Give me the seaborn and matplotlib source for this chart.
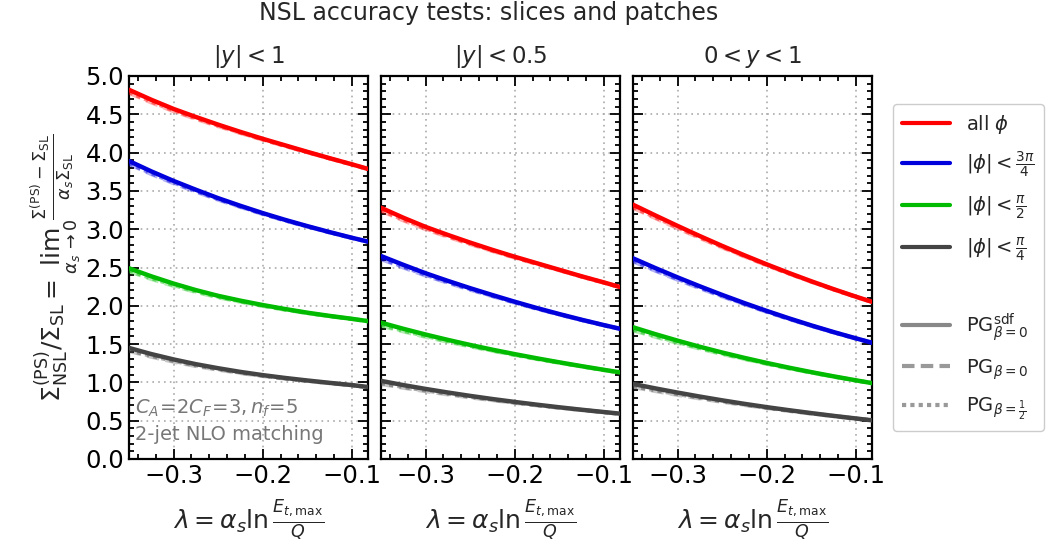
import numpy as np
import pandas as pd
import matplotlib
matplotlib.use("Agg")
import matplotlib.pyplot as plt
from matplotlib.lines import Line2D
from matplotlib.ticker import MultipleLocator
import seaborn as sns

# ---------------- data ----------------
lam = [-0.35, -0.325, -0.30, -0.275, -0.25, -0.225, -0.20, -0.175, -0.15, -0.125, -0.10, -0.082]

panel_titles = [r"$|y| < 1$", r"$|y| < 0.5$", r"$0 < y < 1$"]
slice_labels = [r"all $\phi$", r"$|\phi| < \frac{3\pi}{4}$",
                r"$|\phi| < \frac{\pi}{2}$", r"$|\phi| < \frac{\pi}{4}$"]

# panel 1: |y|<1
p1_all = [4.82, 4.69, 4.57, 4.465, 4.365, 4.27, 4.18, 4.095, 4.01, 3.927, 3.847, 3.787]
p1_3pi4 = [3.89, 3.755, 3.63, 3.515, 3.405, 3.305, 3.21, 3.122, 3.04, 2.962, 2.888, 2.838]
p1_pi2 = [2.49, 2.385, 2.29, 2.205, 2.13, 2.067, 2.01, 1.958, 1.91, 1.868, 1.83, 1.80]
p1_pi4 = [1.45, 1.37, 1.30, 1.238, 1.185, 1.137, 1.095, 1.058, 1.025, 0.994, 0.965, 0.940]
# panel 2: |y|<0.5
p2_all = [3.28, 3.15, 3.03, 2.925, 2.825, 2.73, 2.64, 2.555, 2.47, 2.385, 2.305, 2.245]
p2_3pi4 = [2.65, 2.535, 2.425, 2.325, 2.23, 2.14, 2.053, 1.97, 1.892, 1.818, 1.748, 1.70]
p2_pi2 = [1.78, 1.70, 1.625, 1.555, 1.489, 1.427, 1.369, 1.314, 1.262, 1.212, 1.164, 1.131]
p2_pi4 = [1.02, 0.965, 0.915, 0.868, 0.824, 0.783, 0.745, 0.709, 0.675, 0.643, 0.613, 0.592]
# panel 3: 0<y<1
p3_all = [3.32, 3.18, 3.043, 2.91, 2.782, 2.659, 2.541, 2.428, 2.32, 2.217, 2.119, 2.052]
p3_3pi4 = [2.62, 2.493, 2.371, 2.254, 2.142, 2.035, 1.933, 1.836, 1.744, 1.657, 1.575, 1.518]
p3_pi2 = [1.72, 1.63, 1.545, 1.465, 1.39, 1.32, 1.254, 1.192, 1.134, 1.079, 1.027, 0.991]
p3_pi4 = [0.98, 0.922, 0.867, 0.815, 0.766, 0.72, 0.677, 0.637, 0.599, 0.563, 0.529, 0.505]

# small deviations of the other showers from PG^sdf_{beta=0}
dev_pg_beta0 = [-0.04, -0.035, -0.03, -0.025, -0.02, -0.015, -0.012, -0.009, -0.006, -0.004, -0.003, -0.002]
dev_pg_beta_half = [-0.03, -0.025, -0.02, -0.016, -0.012, -0.01, -0.008, -0.006, -0.004, -0.003, -0.002, -0.001]

panels = [
    [p1_all, p1_3pi4, p1_pi2, p1_pi4],
    [p2_all, p2_3pi4, p2_pi2, p2_pi4],
    [p3_all, p3_3pi4, p3_pi2, p3_pi4],
]
colors = ["#ff0000", "#0000dd", "#00bb00", "#444444"]

# ---------------- figure ----------------
sns.set_style("ticks")
plt.rcParams["font.family"] = ["DejaVu Sans"]
plt.rcParams["mathtext.fontset"] = "dejavusans"

W, H = 1051, 555
fig = plt.figure(figsize=(W / 100, H / 100), dpi=100)

lefts = [129, 381, 633]
ax_w = 239
top_px, bot_px = 76, 459
axes = []
for i, lp in enumerate(lefts):
    ax = fig.add_axes([lp / W, 1 - bot_px / H, ax_w / W, (bot_px - top_px) / H])
    axes.append(ax)
    for j, vals in enumerate(panels[i]):
        v = np.array(vals)
        df = pd.DataFrame({"lam": lam, "sdf": v,
                           "b0": v + np.array(dev_pg_beta0),
                           "bh": v + np.array(dev_pg_beta_half)})
        sns.lineplot(data=df, x="lam", y="b0", ax=ax, color=colors[j], lw=3,
                     linestyle=(0, (3, 1.5)), alpha=0.3, zorder=3)
        sns.lineplot(data=df, x="lam", y="bh", ax=ax, color=colors[j], lw=3,
                     linestyle=(0, (1, 1)), alpha=0.45, zorder=3)
        sns.lineplot(data=df, x="lam", y="sdf", ax=ax, color=colors[j], lw=3.2,
                     zorder=4)
    ax.set_xlim(-0.35, -0.082)
    ax.set_ylim(0, 5.0)
    ax.xaxis.set_major_locator(MultipleLocator(0.1))
    ax.xaxis.set_minor_locator(MultipleLocator(0.02))
    ax.yaxis.set_major_locator(MultipleLocator(0.5))
    ax.yaxis.set_minor_locator(MultipleLocator(0.1))
    ax.tick_params(which="both", direction="in", top=True, right=True,
                   bottom=True, left=True, width=1.3, colors="black")
    ax.tick_params(which="major", length=7, labelsize=17.5)
    ax.tick_params(which="minor", length=3.5)
    ax.grid(True, which="major", linestyle=(0, (1, 2.5)), color="#aaaaaa", lw=1.2)
    for sp in ax.spines.values():
        sp.set_linewidth(1.6)
        sp.set_color("black")
    ax.set_title(panel_titles[i], fontsize=16.5, pad=9)
    ax.set_xlabel(r"$\lambda = \alpha_s \ln\frac{E_{t,\max}}{Q}$", fontsize=18,
                  labelpad=8)
    if i == 0:
        ax.set_ylabel(r"$\Sigma^{(\mathrm{PS})}_{\mathrm{NSL}}/\Sigma_{\mathrm{SL}}"
                      r" = \lim_{\alpha_s\to 0}\frac{\Sigma^{(\mathrm{PS})}"
                      r"-\Sigma_{\mathrm{SL}}}{\alpha_s\Sigma_{\mathrm{SL}}}$",
                      fontsize=18, labelpad=1)
    else:
        ax.set_ylabel("")
        ax.tick_params(labelleft=False)

axes[0].text(0.025, 0.133, r"$C_A\!=\!2C_F\!=\!3, n_f\!=\!5$", transform=axes[0].transAxes,
             fontsize=14, color="#777777", va="center")
axes[0].text(0.025, 0.063, "2-jet NLO matching", transform=axes[0].transAxes,
             fontsize=14, color="#777777", va="center")

fig.suptitle("NSL accuracy tests: slices and patches", fontsize=17, x=489 / W, y=0.998)

handles = [Line2D([], [], color=c, lw=3, label=l) for c, l in zip(colors, slice_labels)]
handles.append(Line2D([], [], color="none", label=" "))
handles.append(Line2D([], [], color="#888888", lw=3, label=r"PG$^{\mathrm{sdf}}_{\beta=0}$"))
handles.append(Line2D([], [], color="#999999", lw=3, linestyle=(0, (3, 1.5)),
                      label=r"PG$_{\beta=0}$"))
handles.append(Line2D([], [], color="#999999", lw=3, linestyle=(0, (1, 1)),
                      label=r"PG$_{\beta=\frac{1}{2}}$"))
fig.legend(handles=handles, loc="upper left", bbox_to_anchor=(893 / W, 1 - 104 / H),
           borderaxespad=0, fontsize=14, frameon=True, handlelength=2.5,
           handletextpad=0.8, labelspacing=0.72, borderpad=0.45,
           edgecolor="#cccccc", framealpha=1)

fig.savefig("out.png", dpi=100)
